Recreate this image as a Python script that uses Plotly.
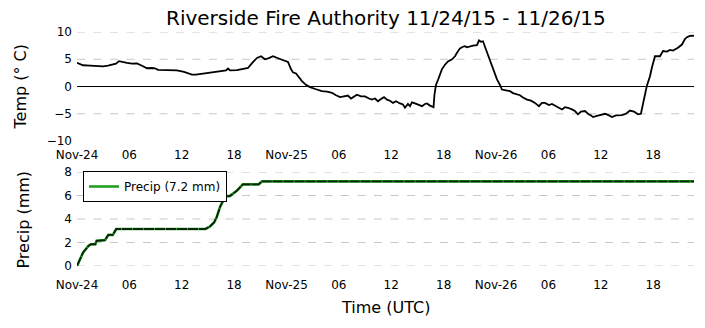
import pandas as pd
import plotly.graph_objects as go

START = pd.Timestamp("2015-11-24 00:00")

# Air temperature (deg C), hours after the start of 11/24/15 UTC
temp_hours = [
    0.00, 0.34, 0.69, 1.49, 2.63, 2.98, 3.55, 4.12, 4.47, 4.81, 5.27, 5.73,
    6.30, 6.87, 7.45, 8.02, 8.59, 8.93, 9.28, 10.08, 10.88, 11.45, 12.26,
    13.17, 13.63, 14.09, 14.89, 15.58, 16.38, 17.07, 17.30, 17.53, 18.33,
    19.01, 19.59, 20.05, 20.62, 21.08, 21.53, 21.99, 22.45, 23.25, 24.05,
    24.17, 24.51, 24.74, 25.09, 25.32, 25.77, 26.23, 26.69, 27.38, 28.06,
    28.64, 29.21, 29.67, 30.13, 30.58, 31.04, 31.39, 31.73, 32.07, 32.53,
    32.99, 33.45, 33.79, 34.14, 34.48, 34.82, 35.17, 35.51, 35.85, 36.20,
    36.54, 37.00, 37.34, 37.57, 37.91, 38.14, 38.37, 38.72, 39.06, 39.52,
    39.86, 40.09, 40.44, 40.84, 40.95, 41.12, 41.35, 41.58, 41.81, 42.15,
    42.50, 42.96, 43.30, 43.53, 43.87, 44.21, 44.44, 44.67, 45.02, 45.36,
    45.82, 46.05, 46.28, 46.51, 46.85, 47.31, 47.77, 48.11, 48.45, 48.68,
    49.14, 49.60, 49.94, 50.40, 50.74, 51.09, 51.55, 52.00, 52.46, 52.92,
    53.26, 53.61, 54.07, 54.41, 54.75, 55.10, 55.56, 55.90, 56.24, 56.70,
    57.04, 57.39, 57.73, 58.19, 58.53, 58.88, 59.11, 59.56, 59.91, 60.48,
    60.94, 61.28, 61.74, 62.08, 62.43, 62.89, 63.34, 63.80, 64.26, 64.60,
    64.83, 65.06, 65.29, 65.64, 65.86, 66.21, 66.78, 67.13, 67.58, 67.93,
    68.27, 68.61, 68.84, 69.30, 69.64, 69.87, 70.22, 70.56, 70.68,
]
temp_c = [
    4.35, 4.1, 3.9, 3.85, 3.8, 3.7, 3.85, 4.0, 4.2, 4.65, 4.45, 4.35,
    4.2, 4.25, 3.8, 3.35, 3.4, 3.35, 3.05, 3.0, 3.0, 2.95, 2.7,
    2.2, 2.2, 2.3, 2.55, 2.7, 2.8, 2.95, 3.3, 2.95, 3.0,
    3.15, 3.4, 4.3, 5.25, 5.55, 5.0, 5.2, 5.55, 5.05, 4.65,
    4.5, 3.2, 2.6, 2.4, 1.9, 1.0, 0.3, -0.1, -0.5, -0.85,
    -0.95, -1.15, -1.6, -1.95, -1.8, -1.65, -2.2, -1.8, -1.5, -1.8,
    -1.8, -2.2, -2.4, -2.2, -2.7, -2.3, -1.95, -2.4, -2.6, -3.0,
    -2.7, -3.1, -3.3, -3.9, -3.2, -3.6, -2.9, -3.1, -3.3, -3.6,
    -3.2, -3.1, -3.5, -3.8, -1.5, 0.3, 1.2, 2.2, 3.2, 4.0,
    4.6, 5.0, 5.55, 6.2, 7.0, 7.3, 7.4, 7.2, 7.4, 7.5,
    7.6, 8.45, 8.2, 8.3, 6.8, 4.65, 2.5, 1.3, 0.3, -0.55,
    -0.7, -0.85, -1.2, -1.5, -1.6, -2.0, -2.4, -2.6, -3.0, -3.6,
    -3.0, -3.0, -3.4, -3.2, -3.5, -3.9, -4.2, -3.8, -3.9, -4.2,
    -4.5, -5.1, -4.6, -4.5, -5.0, -5.3, -5.6, -5.4, -5.2, -5.0,
    -5.3, -5.6, -5.3, -5.3, -5.25, -5.0, -4.4, -4.6, -5.1, -5.0,
    -3.5, -1.5, 0.2, 1.9, 3.5, 5.55, 5.55, 6.5, 6.4, 6.7,
    6.6, 6.9, 7.1, 7.7, 8.7, 9.05, 9.3, 9.35, 9.3,
]

# Accumulated precipitation (mm)
precip_hours = [
    0.0, 0.7, 1.3, 1.6, 2.1, 2.25, 3.2, 3.6, 4.1, 4.5, 14.7, 15.2, 15.7,
    16.0, 16.4, 17.0, 17.5, 17.9, 18.3, 19.0, 20.8, 21.2, 70.68,
]
precip_mm = [
    0.0, 1.15, 1.7, 1.85, 1.85, 2.15, 2.2, 2.65, 2.65, 3.15, 3.15, 3.35, 3.7,
    4.15, 5.05, 5.95, 5.95, 6.15, 6.4, 6.95, 6.95, 7.2, 7.2,
]

tick_hours = [0, 6, 12, 18, 24, 30, 36, 42, 48, 54, 60, 66]
tick_labels = ["Nov-24", "06", "12", "18", "Nov-25", "06", "12", "18",
               "Nov-26", "06", "12", "18"]
temp_ticks = [10, 5, 0, -5, -10]
temp_tick_labels = ["10", "5", "0", "\u22125", "\u221210"]
temp_grid = [10, 5, -5]
precip_ticks = [0, 2, 4, 6, 8]
precip_grid = [0, 2, 4, 6, 8]


def to_time(hours):
    return [START + pd.Timedelta(hours=h) for h in hours]


temp_t = to_time(temp_hours)
precip_t = to_time(precip_hours)
tick_t = to_time(tick_hours)
x_range = [START, max(temp_t[-1], precip_t[-1])]

FONT = "DejaVu Sans"
GREEN = "#22a022"

fig = go.Figure()

fig.add_trace(go.Scatter(
    x=temp_t, y=temp_c, mode="lines", xaxis="x", yaxis="y",
    line=dict(color="black", width=1.8), showlegend=False,
))
fig.add_trace(go.Scatter(
    x=precip_t, y=precip_mm, mode="lines", xaxis="x2", yaxis="y2",
    line=dict(color=GREEN, width=2.6),
    name=f"Precip ({max(precip_mm):.1f} mm)", showlegend=True,
))
fig.add_trace(go.Scatter(
    x=precip_t, y=precip_mm, mode="lines", xaxis="x2", yaxis="y2",
    line=dict(color="#0a240a", width=1.8, dash="10px,1px"),
    showlegend=False, hoverinfo="skip",
))

shapes = []
for v in temp_grid:
    shapes.append(dict(type="line", xref="x domain", x0=0, x1=1, yref="y",
                       y0=v, y1=v, layer="below",
                       line=dict(color="#c8c8c8", width=1, dash="8px,8.5px")))
shapes.append(dict(type="line", xref="x domain", x0=0, x1=1, yref="y",
                   y0=0, y1=0, layer="below",
                   line=dict(color="black", width=1)))
for v in precip_grid:
    shapes.append(dict(type="line", xref="x2 domain", x0=0, x1=1, yref="y2",
                       y0=v, y1=v, layer="below",
                       line=dict(color="#c8c8c8", width=1, dash="8px,8.5px")))

xaxis_common = dict(
    type="date", range=x_range, tickvals=tick_t, ticktext=tick_labels,
    showgrid=False, zeroline=False, showline=False, ticks="",
    tickfont=dict(family=FONT, size=12, color="black"),
)

fig.update_layout(
    width=705, height=328,
    margin=dict(l=77, r=11, t=32, b=62),
    paper_bgcolor="white", plot_bgcolor="white",
    font=dict(family=FONT, size=12, color="black"),
    xaxis=dict(domain=[0, 1], anchor="y", ticklabelstandoff=5, **xaxis_common),
    xaxis2=dict(domain=[0, 1], anchor="y2", ticklabelstandoff=10, **xaxis_common),
    yaxis=dict(domain=[0.534, 1], anchor="x", range=[-10, 10],
               tickvals=temp_ticks, ticktext=temp_tick_labels,
               showgrid=False, zeroline=False, showline=False, ticks="",
               ticklabelstandoff=4,
               tickfont=dict(family=FONT, size=12, color="black")),
    yaxis2=dict(domain=[0, 0.4017], anchor="x2", range=[0, 8],
                tickvals=precip_ticks, showgrid=False, zeroline=False,
                showline=False, ticks="", ticklabelstandoff=4,
                tickfont=dict(family=FONT, size=12, color="black")),
    shapes=shapes,
    showlegend=True,
    legend=dict(x=0.0097, y=0.406, xanchor="left", yanchor="top",
                bgcolor="white", bordercolor="black", borderwidth=1,
                font=dict(family=FONT, size=12, color="black")),
    annotations=[
        dict(text="Riverside Fire Authority 11/24/15 - 11/26/15",
             xref="paper", yref="paper", x=0.5013, y=1.0598,
             xanchor="center", yanchor="middle", showarrow=False,
             font=dict(family=FONT, size=20, color="black")),
        dict(text="Temp (\u00b0 C)", textangle=-90,
             xref="paper", yref="paper", x=(19.5 - 77) / 617, y=(266 - 87) / 234,
             xanchor="center", yanchor="middle", showarrow=False,
             font=dict(family=FONT, size=16, color="black")),
        dict(text="Precip (mm)", textangle=-90,
             xref="paper", yref="paper", x=(22.5 - 77) / 617, y=(266 - 220) / 234,
             xanchor="center", yanchor="middle", showarrow=False,
             font=dict(family=FONT, size=16, color="black")),
        dict(text="Time (UTC)",
             xref="paper", yref="paper", x=0.5, y=(266 - 307) / 234,
             xanchor="center", yanchor="middle", showarrow=False,
             font=dict(family=FONT, size=16, color="black")),
    ],
)

fig.write_html("out.html")
